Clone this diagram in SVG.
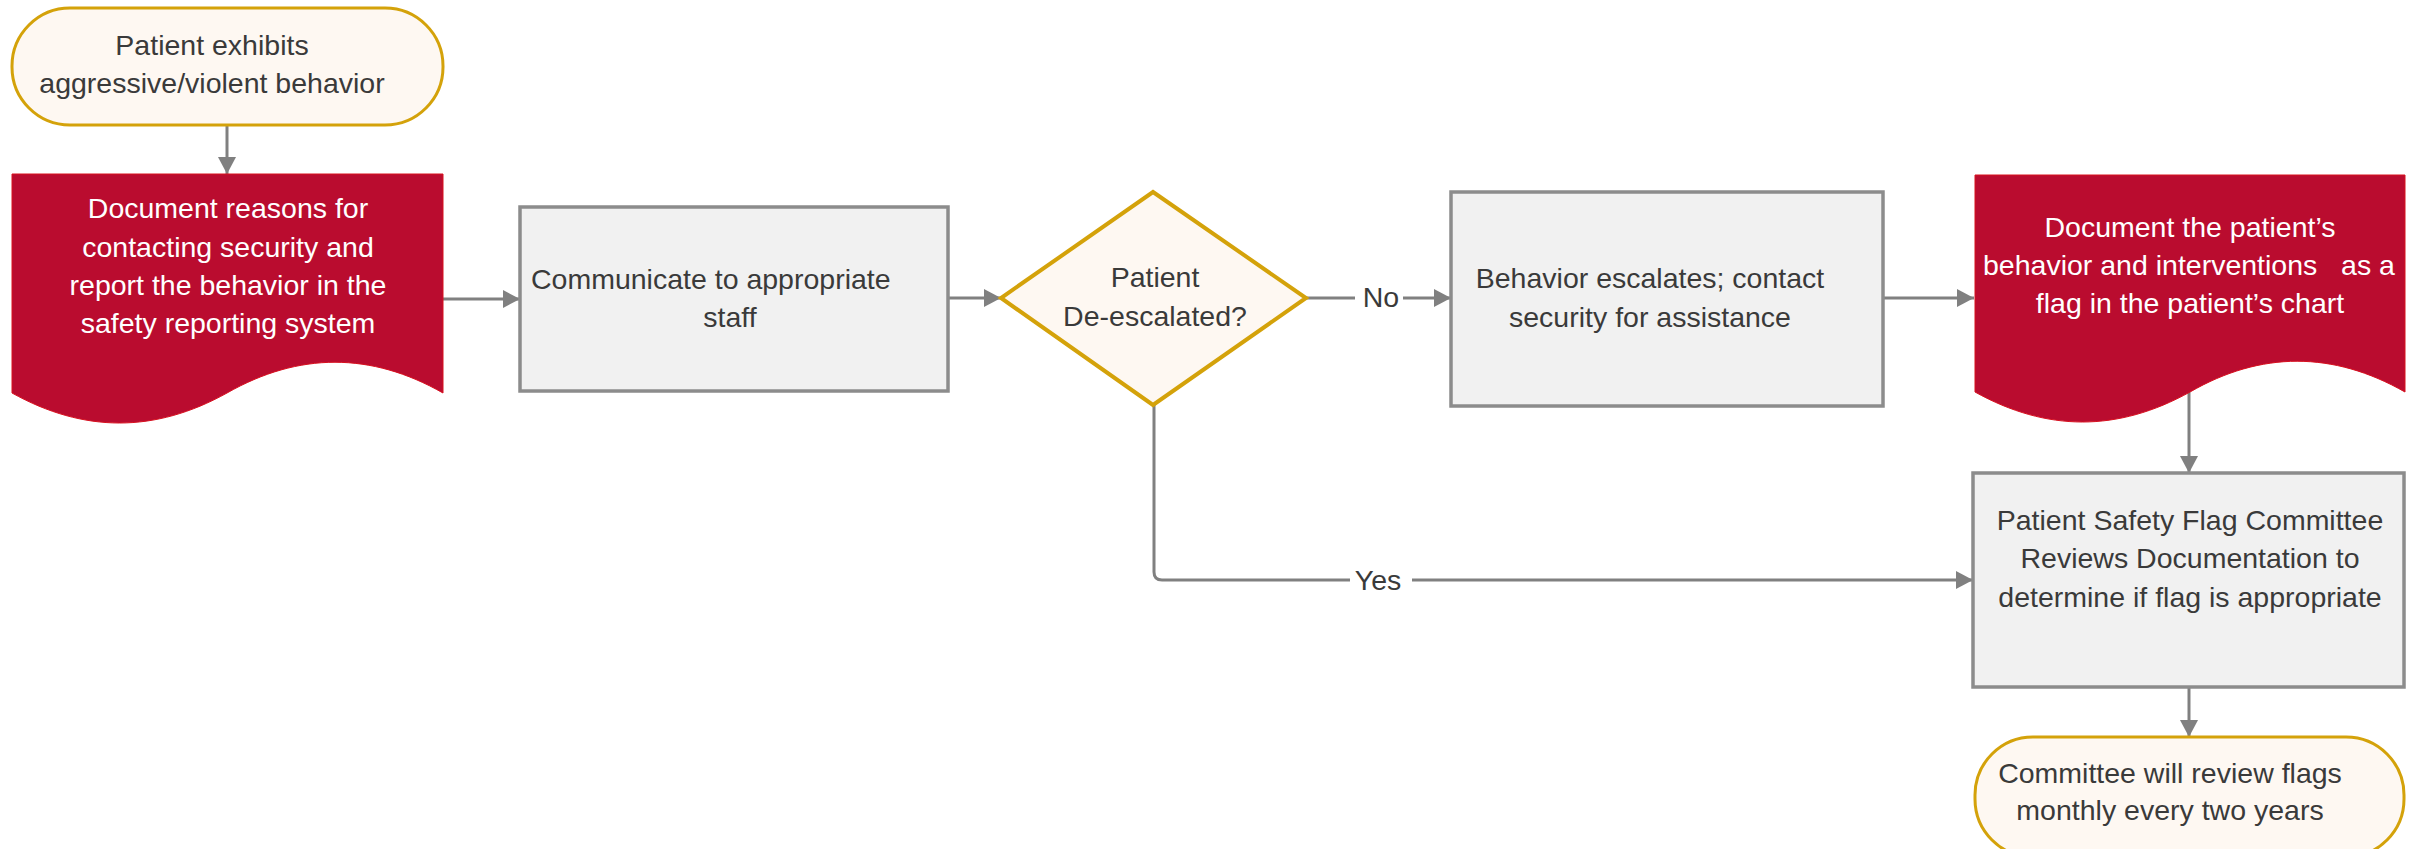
<svg xmlns="http://www.w3.org/2000/svg" width="2417" height="849" viewBox="0 0 2417 849">
<defs>
<marker id="ah" markerUnits="userSpaceOnUse" markerWidth="18" markerHeight="18" refX="17" refY="9" orient="auto">
<path d="M0,0 L17,9 L0,18 Z" fill="#808080"/>
</marker>
<style>
.t{font-family:"Liberation Sans",Arial,sans-serif;font-size:28.5px;fill:#3a3a3a}
.w{font-family:"Liberation Sans",Arial,sans-serif;font-size:28.5px;fill:#ffffff}
.m{text-anchor:middle}
.term{fill:#fef8f2;stroke:#d4a20a;stroke-width:3}
.proc{fill:#f1f1f1;stroke:#8c8c8c;stroke-width:3.5}
.doc{fill:#ba0c2f;stroke:#d8101f;stroke-width:1}
.dec{fill:#fef8f2;stroke:#d4a20a;stroke-width:4}
.c{fill:none;stroke:#808080;stroke-width:3}
</style>
</defs>
<rect width="2417" height="849" fill="#ffffff"/>
<g id="connectors">
<path class="c" d="M227,125 V174" marker-end="url(#ah)"/>
<path class="c" d="M443,299 H520" marker-end="url(#ah)"/>
<path class="c" d="M948,298 H1001" marker-end="url(#ah)"/>
<path class="c" d="M1306,298 H1355"/>
<path class="c" d="M1403,298 H1451" marker-end="url(#ah)"/>
<path class="c" d="M1883,298 H1974" marker-end="url(#ah)"/>
<path class="c" d="M2189,392 V473" marker-end="url(#ah)"/>
<path class="c" d="M2189,687 V737" marker-end="url(#ah)"/>
<path class="c" d="M1154,405 V572 Q1154,580 1162,580 H1350"/>
<path class="c" d="M1412,580 H1973" marker-end="url(#ah)"/>
<text class="t m" x="1381" y="307">No</text>
<text class="t m" x="1378" y="590">Yes</text>
</g>
<g id="start">
<rect class="term" x="12" y="8" width="431" height="117" rx="58" ry="58"/>
<text class="t m" x="212" y="55">Patient exhibits</text>
<text class="t m" x="212" y="93">aggressive/violent behavior</text>
</g>
<g id="doc1">
<path class="doc" d="M12,174 H443 V393 C371,352 299,352 227,393 C155,433 84,433 12,393 Z"/>
<text class="w m" x="228" y="218">Document reasons for</text>
<text class="w m" x="228" y="257">contacting security and</text>
<text class="w m" x="228" y="295">report the behavior in the</text>
<text class="w m" x="228" y="333">safety reporting system</text>
</g>
<g id="communicate">
<rect class="proc" x="520" y="207" width="428" height="184"/>
<text class="t" x="531" y="289">Communicate to appropriate</text>
<text class="t m" x="730" y="327">staff</text>
</g>
<g id="decision">
<path class="dec" d="M1153,192 L1306,298 L1153,405 L1001,298 Z"/>
<text class="t m" x="1155" y="287">Patient</text>
<text class="t m" x="1155" y="326">De-escalated?</text>
</g>
<g id="escalates">
<rect class="proc" x="1451" y="192" width="432" height="214"/>
<text class="t m" x="1650" y="288">Behavior escalates; contact</text>
<text class="t m" x="1650" y="327">security for assistance</text>
</g>
<g id="doc2">
<path class="doc" d="M1975,175 H2405 V392 C2333,351 2261,351 2190,392 C2118,432 2047,432 1975,392 Z"/>
<text class="w m" x="2190" y="237">Document the patient’s</text>
<text class="w" x="1983" y="275" xml:space="preserve" style="white-space:pre">behavior and interventions   as a</text>
<text class="w m" x="2190" y="313">flag in the patient’s chart</text>
</g>
<g id="review">
<rect class="proc" x="1973" y="473" width="431" height="214"/>
<text class="t m" x="2190" y="530">Patient Safety Flag Committee</text>
<text class="t m" x="2190" y="568">Reviews Documentation to</text>
<text class="t m" x="2190" y="607">determine if flag is appropriate</text>
</g>
<g id="end">
<rect class="term" x="1975" y="737" width="429" height="120" rx="58" ry="58"/>
<text class="t m" x="2170" y="783">Committee will review flags</text>
<text class="t m" x="2170" y="820">monthly every two years</text>
</g>
</svg>
